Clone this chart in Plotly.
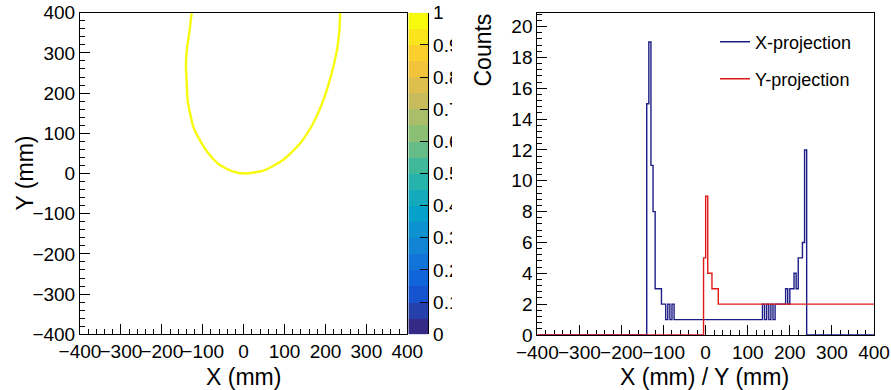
import plotly.graph_objects as go

W, H = 891, 390

# ---------------- data ----------------
# 2D histogram: the occupied cells follow this curve (mm)
CURVE_X = [-127, -133, -139, -141, -139, -137, -131, -123, -107, -86, -58, -25, 3,
           48, 97, 138, 170, 195, 215, 228, 234, 236]
CURVE_Y = [400, 349, 307, 266, 224, 183, 150, 116, 83, 50, 21, 4.5, 0,
           7, 34, 75, 125, 183, 249, 307, 357, 400]

# X projection: run edges (mm) and counts of each run
XPROJ_EDGES = [-400, -140, -135, -130, -125, -120, -105, -95, -90, -85, -80, -75,
               135, 140, 145, 150, 155, 160, 165, 190, 195, 200, 210, 215, 220,
               230, 235, 240, 400]
XPROJ_COUNTS = [0, 15, 19, 11, 8, 3, 2, 1, 2, 1, 2, 1,
                2, 1, 2, 1, 2, 1, 2, 3, 2, 3, 4, 3, 5,
                6, 12, 0]

# Y projection
YPROJ_EDGES = [-400, -5, 0, 5, 15, 30, 400]
YPROJ_COUNTS = [0, 5, 9, 4, 3, 2]

# colour-axis ticks
CBAR_TICKS = [0, 0.1, 0.2, 0.3, 0.4, 0.5, 0.6, 0.7, 0.8, 0.9, 1]
CBAR_LABELS = ["0", "0.1", "0.2", "0.3", "0.4", "0.5", "0.6", "0.7", "0.8", "0.9", "1"]
N_CONTOURS = 20

# ROOT kBird palette
BIRD_STOPS = [0.0, 0.125, 0.25, 0.375, 0.5, 0.625, 0.75, 0.875, 1.0]
BIRD_R = [0.2082, 0.0592, 0.0780, 0.0232, 0.1802, 0.5301, 0.8186, 0.9956, 0.9764]
BIRD_G = [0.1664, 0.3599, 0.5041, 0.6419, 0.7178, 0.7492, 0.7328, 0.7862, 0.9832]
BIRD_B = [0.5293, 0.8684, 0.8385, 0.7914, 0.6425, 0.4662, 0.3499, 0.1968, 0.0539]
BIRD = [[s, "rgb(%d,%d,%d)" % (r * 255, g * 255, b * 255)]
        for s, r, g, b in zip(BIRD_STOPS, BIRD_R, BIRD_G, BIRD_B)]
YELLOW = BIRD[-1][1]

NAVY = "#1c1c86"
RED = "#e01818"
FONT = "Liberation Sans, Arial, Helvetica, sans-serif"


def px(x):
    return x / W


def py(y):
    return 1 - y / H


fig = go.Figure()

# left: 2D histogram content
fig.add_trace(go.Scatter(x=CURVE_X, y=CURVE_Y, mode="lines",
                         line=dict(color=YELLOW, width=2.4, shape="spline", smoothing=0.6),
                         showlegend=False, xaxis="x", yaxis="y", hoverinfo="skip"))

# palette (colour axis) drawn as a heatmap column
levels = [(i + 0.5) / N_CONTOURS for i in range(N_CONTOURS)]
fig.add_trace(go.Heatmap(z=[[i / (N_CONTOURS - 1)] for i in range(N_CONTOURS)],
                         x=[0], y=levels, colorscale=BIRD, zmin=0, zmax=1,
                         showscale=False, xaxis="x3", yaxis="y3", hoverinfo="skip"))

# right: projections
fig.add_trace(go.Scatter(x=XPROJ_EDGES, y=XPROJ_COUNTS + [XPROJ_COUNTS[-1]],
                         mode="lines", line=dict(color=NAVY, width=1.4, shape="hv"),
                         name="X-projection", xaxis="x2", yaxis="y2", legend="legend"))
fig.add_trace(go.Scatter(x=YPROJ_EDGES, y=YPROJ_COUNTS + [YPROJ_COUNTS[-1]],
                         mode="lines", line=dict(color=RED, width=1.4, shape="hv"),
                         name="Y-projection", xaxis="x2", yaxis="y2", legend="legend2"))

tickfont = dict(family=FONT, size=19, color="black")
common = dict(showgrid=False, zeroline=False, showline=True, linecolor="black",
              linewidth=1, mirror=True, ticks="inside", ticklen=10, tickcolor="black",
              tickwidth=1, tickfont=tickfont, tickangle=0, automargin=False)

fig.update_layout(
    width=W, height=H, autosize=False,
    margin=dict(l=0, r=0, t=0, b=0),
    paper_bgcolor="white", plot_bgcolor="white",
    font=dict(family=FONT, color="black"),
    xaxis=dict(domain=[px(80), px(407.3)], range=[-400, 400], dtick=100, tick0=0,
               anchor="y",
               minor=dict(ticks="inside", ticklen=5, dtick=20, tickcolor="black"), **common),
    yaxis=dict(domain=[py(334.3), py(12.7)], range=[-400, 400], dtick=100, tick0=0,
               anchor="x",
               minor=dict(ticks="inside", ticklen=5, dtick=20, tickcolor="black"), **common),
    xaxis3=dict(domain=[px(408.3), px(428.3)], range=[-0.5, 0.5], visible=False,
                anchor="y3"),
    yaxis3=dict(domain=[py(334.3), py(12.7)], range=[0, 1], anchor="x3", side="right",
                tickvals=CBAR_TICKS, ticktext=CBAR_LABELS, ticks="inside", ticklen=8,
                tickcolor="black", showline=True, linecolor="black", linewidth=1,
                showgrid=False, zeroline=False, tickfont=tickfont, automargin=False),
    xaxis2=dict(domain=[px(537.3), px(874)], range=[-400, 400], dtick=100, tick0=0,
                anchor="y2", layer="below traces",
                minor=dict(ticks="inside", ticklen=5, dtick=20, tickcolor="black"), **common),
    yaxis2=dict(domain=[py(335), py(12.7)], range=[0, 20.9], dtick=2, tick0=0,
                anchor="x2",
                minor=dict(ticks="inside", ticklen=5, dtick=0.4, tickcolor="black"), **common),
    legend=dict(x=px(715), y=py(42), xanchor="left", yanchor="middle",
                font=dict(family=FONT, size=18, color="black"),
                bgcolor="rgba(0,0,0,0)", borderwidth=0, itemwidth=30),
    legend2=dict(x=px(715), y=py(79), xanchor="left", yanchor="middle",
                 font=dict(family=FONT, size=18, color="black"),
                 bgcolor="rgba(0,0,0,0)", borderwidth=0, itemwidth=30),
    shapes=[dict(type="rect", xref="paper", yref="paper", x0=px(452), x1=px(468),
                 y0=0, y1=1, fillcolor="white", line=dict(width=0), layer="above")],
    annotations=[
        dict(text="Y (mm)", xref="paper", yref="paper", x=px(24), y=py(173.5),
             textangle=-90, showarrow=False, xanchor="center", yanchor="middle",
             font=dict(family=FONT, size=23, color="black")),
        dict(text="X (mm)", xref="paper", yref="paper", x=px(243.6), y=py(377),
             showarrow=False, xanchor="center", yanchor="middle",
             font=dict(family=FONT, size=23, color="black")),
        dict(text="Counts", xref="paper", yref="paper", x=px(482.5), y=py(50),
             textangle=-90, showarrow=False, xanchor="center", yanchor="middle",
             font=dict(family=FONT, size=23, color="black")),
        dict(text="X (mm) / Y (mm)", xref="paper", yref="paper", x=px(704), y=py(377),
             showarrow=False, xanchor="center", yanchor="middle",
             font=dict(family=FONT, size=23, color="black")),
    ],
)

fig.write_html("out.html",
               config={"displayModeBar": False},
               post_script="document.body.style.margin='0';"
                           "document.body.style.overflow='hidden';")
